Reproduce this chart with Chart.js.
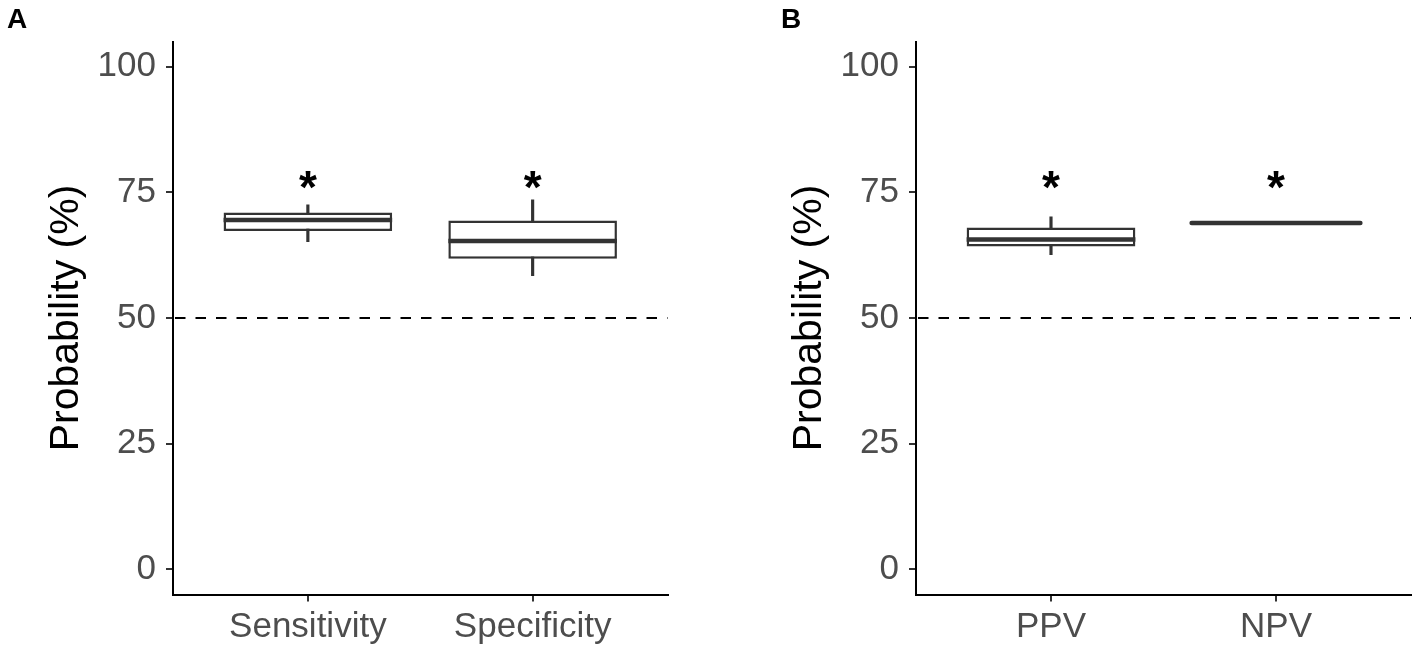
<!DOCTYPE html>
<html>
<head>
<meta charset="utf-8">
<script src="https://cdn.jsdelivr.net/npm/chart.js@4.4.1/dist/chart.umd.min.js"></script>
<style>
  html, body { margin:0; padding:0; background:#ffffff; }
  #wrap { position:relative; width:1418px; height:652px; overflow:hidden; background:#ffffff; }
  canvas { position:absolute; top:0; }
  .panel { position:absolute; font-family:'Liberation Sans', Arial, sans-serif; font-weight:bold; font-size:28px; line-height:1; color:#000; }
</style>
</head>
<body>
<div id="wrap">
  <canvas id="cA" width="709" height="652" style="left:0px;width:709px;height:652px"></canvas>
  <canvas id="cB" width="709" height="652" style="left:709px;width:709px;height:652px"></canvas>
  <div class="panel" style="left:7px;top:5px">A</div>
  <div class="panel" style="left:781px;top:5px">B</div>
</div>
<script>
// ---- data ----
const categoriesA = ['Sensitivity', 'Specificity'];
const whiskerLowA = [65.2, 58.4];
const q1A         = [67.3, 61.8];
const medianA     = [69.5, 65.3];
const q3A         = [71.0, 69.4];
const whiskerHighA= [72.5, 73.5];
const starA       = [78, 78];

const categoriesB = ['PPV', 'NPV'];
const whiskerLowB = [62.6, 68.9];
const q1B         = [64.2, 68.9];
const medianB     = [65.6, 68.9];
const q3B         = [68.0, 68.9];
const whiskerHighB= [70.1, 68.9];
const starB       = [78, 78];

const yTickValues = [0, 25, 50, 75, 100];
const referenceLine = 50;
const starLabel = '*';
const yTitle = 'Probability (%)';

// ---- styles ----
const FONT = "'Liberation Sans', Arial, sans-serif";
Chart.defaults.font.family = FONT;
const BOX_COLOR = '#333333';
const TICK_COLOR = '#4D4D4D';

const boxPlugin = {
  id: 'boxExtras',
  beforeDatasetsDraw(chart) {
    const {ctx, chartArea, scales: {y}} = chart;
    const py = y.getPixelForValue(chart.options.plugins.boxExtras.ref);
    ctx.save();
    ctx.strokeStyle = '#000000';
    ctx.lineWidth = 2;
    ctx.setLineDash([10.5, 10]);
    ctx.beginPath();
    ctx.moveTo(chartArea.left + 2, py);
    ctx.lineTo(chartArea.right, py);
    ctx.stroke();
    ctx.restore();
  },
  afterDatasetsDraw(chart) {
    const {ctx, scales: {y}} = chart;
    const o = chart.options.plugins.boxExtras;
    const meta = chart.getDatasetMeta(0);
    ctx.save();
    meta.data.forEach((el, i) => {
      const {x, width} = el.getProps(['x', 'width'], true);
      const py = y.getPixelForValue(o.median[i]);
      ctx.strokeStyle = BOX_COLOR;
      ctx.lineWidth = 4.5;
      ctx.lineCap = (o.q1[i] === o.q3[i]) ? 'round' : 'butt';
      ctx.beginPath();
      ctx.moveTo(x - width / 2, py);
      ctx.lineTo(x + width / 2, py);
      ctx.stroke();
      // significance star
      const sy = y.getPixelForValue(o.star[i]);
      const fs = 46;
      ctx.fillStyle = '#000000';
      ctx.font = 'bold ' + fs + 'px ' + FONT;
      ctx.textAlign = 'center';
      ctx.textBaseline = 'alphabetic';
      ctx.fillText(starLabel, x, sy + 0.56 * fs);
    });
    ctx.restore();
  }
};

function makeChart(canvasId, cats, lo, q1, med, q3, hi, star, yAxisWidth, padRight, titlePad) {
  const xs = cats.map((c, i) => i + 1);
  return new Chart(document.getElementById(canvasId), {
    type: 'bar',
    data: {
      datasets: [
        {
          label: 'box',
          data: xs.map((x, i) => ({x: x, y: [q1[i], q3[i]]})),
          backgroundColor: '#ffffff',
          borderColor: BOX_COLOR,
          borderWidth: 2.5,
          borderSkipped: false,
          grouped: false,
          barPercentage: 0.75,
          categoryPercentage: 1.0
        },
        {
          label: 'whisker',
          data: xs.map((x, i) => ({x: x, y: [lo[i], hi[i]]})),
          backgroundColor: BOX_COLOR,
          borderWidth: 0,
          grouped: false,
          maxBarThickness: 2.5,
          barPercentage: 1.0,
          categoryPercentage: 1.0
        }
      ]
    },
    options: {
      responsive: false,
      animation: false,
      devicePixelRatio: 1,
      layout: { padding: { left: 0, right: padRight, top: 41.5, bottom: 0 } },
      plugins: {
        legend: { display: false },
        tooltip: { enabled: false },
        boxExtras: { median: med, q1: q1, q3: q3, star: star, ref: referenceLine }
      },
      scales: {
        x: {
          type: 'linear',
          min: 0.4,
          max: 2.6,
          offset: false,
          grid: { display: true, drawOnChartArea: false, drawTicks: true, tickLength: 7, color: BOX_COLOR, lineWidth: 2, offset: false },
          border: { display: true, color: '#000000', width: 2 },
          afterBuildTicks: (s) => { s.ticks = xs.map(v => ({value: v})); },
          afterFit: (s) => { s.height = 57.5; },
          ticks: {
            color: TICK_COLOR,
            font: { size: 35 },
            padding: 5,
            maxRotation: 0,
            autoSkip: false,
            callback: (v, i) => cats[i]
          }
        },
        y: {
          type: 'linear',
          min: -5,
          max: 105,
          grid: { display: true, drawOnChartArea: false, drawTicks: true, tickLength: 7, color: BOX_COLOR, lineWidth: 2 },
          border: { display: true, color: '#000000', width: 2 },
          afterBuildTicks: (s) => { s.ticks = yTickValues.map(v => ({value: v})); },
          afterFit: (s) => { s.width = yAxisWidth; },
          ticks: {
            color: TICK_COLOR,
            font: { size: 35 },
            padding: 10,
            callback: (v) => String(v)
          },
          title: {
            display: true,
            text: yTitle,
            color: '#000000',
            font: { size: 41, lineHeight: 1 },
            padding: { top: titlePad, bottom: 0 }
          }
        }
      }
    },
    plugins: [boxPlugin]
  });
}

makeChart('cA', categoriesA, whiskerLowA, q1A, medianA, q3A, whiskerHighA, starA, 173, 41.5, 46.5);
makeChart('cB', categoriesB, whiskerLowB, q1B, medianB, q3B, whiskerHighB, starB, 207, 7, 80.5);
</script>
</body>
</html>
